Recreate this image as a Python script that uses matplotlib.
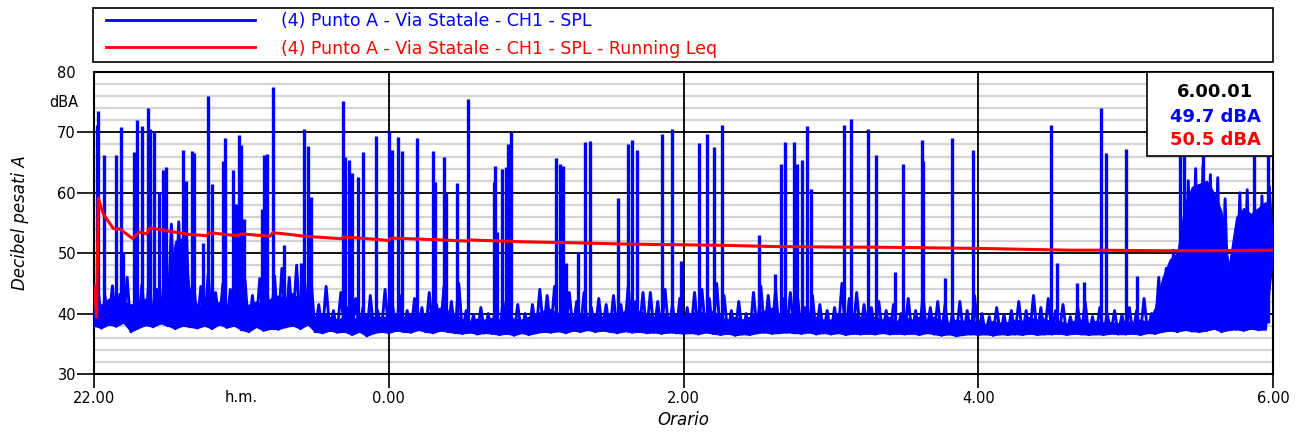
import numpy as np
import matplotlib
matplotlib.use("Agg")
import matplotlib.pyplot as plt
from matplotlib.patches import Rectangle

# ---------------- data ----------------
# background SPL (dBA), sampled every 0.025 h from 22.00 (alternating troughs / crests)
sample_step_h = 0.025
spl_base = [
    38.0, 45.5, 37.6, 42.8, 38.2, 44.6, 37.9, 43.2, 38.5, 46.0,
    37.0, 41.5, 37.6, 44.8, 38.1, 46.2, 37.8, 44.0, 38.4, 45.5,
    38.0, 54.8, 37.5, 55.2, 38.0, 54.6, 37.8, 46.0, 37.6, 44.5,
    38.0, 46.5, 37.5, 43.5, 38.2, 45.0, 37.7, 44.0, 38.0, 46.5,
    37.3, 45.5, 37.0, 43.0, 37.8, 45.8, 37.2, 44.0, 37.5, 46.2,
    37.4, 47.5, 37.8, 46.0, 38.0, 48.0, 37.5, 47.0, 38.2, 45.0,
    37.0, 41.5, 36.8, 44.5, 37.2, 40.5, 36.9, 43.5, 37.0, 41.0,
    36.5, 42.5, 37.0, 41.0, 36.3, 43.0, 36.8, 40.5, 37.0, 44.0,
    36.8, 41.5, 37.2, 43.0, 37.0, 40.5, 36.9, 42.5, 37.3, 41.0,
    37.0, 43.5, 36.8, 41.5, 37.2, 44.5, 37.0, 42.0, 36.8, 45.0,
    36.7, 40.5, 36.9, 39.8, 36.6, 41.0, 36.8, 40.0, 36.7, 41.5,
    36.5, 42.0, 36.7, 40.5, 36.4, 41.5, 36.8, 40.0, 36.5, 41.5,
    36.8, 44.0, 37.0, 43.0, 36.9, 44.5, 37.1, 42.5, 36.8, 43.5,
    37.2, 42.0, 37.0, 43.5, 37.3, 41.0, 37.0, 42.5, 37.2, 41.5,
    37.0, 43.0, 36.8, 41.5, 37.1, 44.5, 36.9, 42.0, 37.0, 43.5,
    36.8, 43.5, 36.9, 42.0, 36.7, 44.0, 36.9, 41.5, 36.8, 42.5,
    36.7, 41.0, 36.8, 43.5, 36.6, 44.0, 36.9, 42.5, 36.7, 45.0,
    36.5, 43.0, 36.7, 40.5, 36.4, 42.0, 36.6, 40.0, 36.5, 43.5,
    36.8, 44.5, 36.9, 43.0, 36.7, 44.0, 36.8, 42.5, 36.9, 43.5,
    36.8, 42.5, 36.7, 41.0, 36.9, 43.0, 36.6, 41.5, 36.8, 40.5,
    36.6, 41.0, 36.8, 45.0, 36.5, 42.5, 36.7, 43.5, 36.6, 41.5,
    36.7, 41.0, 36.6, 42.0, 36.8, 40.5, 36.6, 41.5, 36.7, 40.0,
    36.6, 42.5, 36.7, 40.5, 36.5, 43.0, 36.8, 41.0, 36.6, 42.0,
    36.4, 41.5, 36.6, 40.0, 36.3, 42.0, 36.5, 40.5, 36.6, 43.0,
    36.5, 40.0, 36.6, 39.5, 36.4, 41.0, 36.6, 39.8, 36.5, 40.5,
    36.6, 42.0, 36.5, 40.5, 36.7, 43.0, 36.5, 41.0, 36.6, 42.5,
    36.6, 40.5, 36.7, 41.5, 36.5, 39.5, 36.7, 41.0, 36.6, 42.0,
    36.5, 39.5, 36.6, 41.0, 36.5, 40.0, 36.7, 40.5, 36.6, 39.8,
    36.6, 41.0, 36.7, 40.5, 36.5, 42.5, 36.8, 40.0, 36.7, 46.0,
    37.0, 47.5, 37.2, 50.5, 37.0, 52.0, 37.3, 62.0, 37.1, 64.0,
    37.0, 64.5, 37.2, 63.0, 37.5, 62.5, 37.0, 59.0, 37.3, 50.0,
    37.4, 60.0, 37.2, 60.5, 37.5, 58.0, 37.3, 59.5, 37.4, 61.0,
    49.7,
]

# level up to which the SPL trace is a solid blue band, every 0.05 h
band_top = [
    42.0, 41.5, 42.5, 41.0, 42.0,
    41.5, 42.0, 42.5, 41.5, 42.0,
    44.0, 52.0, 52.5, 44.0, 41.5,
    41.5, 41.0, 42.0, 41.5, 41.0,
    41.0, 41.5, 42.0, 41.5, 42.5,
    43.0, 42.5, 43.5, 42.0, 41.0,
    39.5, 40.0, 39.5, 39.0, 39.5,
    39.0, 39.5, 40.0, 39.5, 39.5,
    39.5, 40.0, 39.5, 40.0, 39.5,
    40.0, 40.5, 41.0, 40.5, 40.0,
    39.0, 38.8, 39.2, 39.0, 39.3,
    39.0, 39.5, 39.2, 39.0, 39.5,
    40.0, 40.5, 40.8, 40.0, 40.5,
    39.5, 40.0, 39.5, 40.0, 39.5,
    40.0, 39.5, 40.5, 40.0, 40.5,
    40.0, 39.5, 40.0, 39.5, 40.0,
    39.5, 40.0, 40.5, 40.0, 40.5,
    39.5, 39.0, 39.5, 39.0, 39.5,
    40.0, 40.5, 41.0, 40.0, 40.5,
    39.5, 39.0, 39.5, 39.5, 39.0,
    39.0, 40.0, 39.5, 40.0, 39.5,
    39.0, 39.5, 39.0, 39.5, 38.8,
    39.5, 39.0, 39.5, 39.0, 39.5,
    38.8, 38.5, 39.0, 38.8, 39.0,
    38.5, 38.3, 38.8, 38.5, 38.6,
    39.0, 38.8, 39.5, 39.0, 39.2,
    38.6, 38.8, 38.4, 38.8, 39.0,
    38.4, 38.8, 38.5, 38.6, 38.4,
    38.8, 38.6, 39.0, 38.6, 41.0,
    46.0, 49.0, 50.0, 58.0, 61.0,
    61.5, 62.0, 60.0, 57.0, 48.0,
    56.0, 57.5, 56.5, 57.5, 58.5,
    49.7,
]

# short noise events: time (hours after 22.00) and peak level (dBA)
spike_t = [0.018, 0.029, 0.068, 0.149, 0.181, 0.197, 0.271, 0.294, 0.324, 0.368,
           0.380, 0.409, 0.443, 0.470, 0.488, 0.602, 0.624, 0.663, 0.678, 0.742,
           0.775, 0.799, 0.873, 0.891, 0.945, 0.961, 0.982, 0.995, 1.018, 1.138,
           1.153, 1.176, 1.212, 1.291, 1.404, 1.425, 1.454, 1.472, 1.691, 1.703,
           1.732, 1.748, 1.789, 1.823, 1.913, 2.003, 2.020, 2.064, 2.088, 2.189,
           2.302, 2.313, 2.374, 2.388, 2.465, 2.539, 2.714, 2.720, 2.736, 2.766,
           2.793, 2.811, 2.827, 3.134, 3.161, 3.180, 3.202, 3.286, 3.331, 3.365,
           3.553, 3.625, 3.648, 3.686, 3.851, 3.923, 3.982, 4.104, 4.157, 4.208,
           4.263, 4.511, 4.620, 4.661, 4.688, 4.749, 4.767, 4.801, 4.835, 4.864,
           5.088, 5.136, 5.253, 5.303, 5.434, 5.491, 5.615, 5.626, 5.773, 5.819,
           5.965, 6.493, 6.535, 6.667, 6.716, 6.830, 6.864, 7.000, 7.074, 7.368,
           7.395, 7.524, 7.870, 7.965]
spike_db = [71.2, 73.5, 66.3, 66.3, 70.9, 50.2, 66.8, 72.1, 71.1, 74.0,
            70.6, 70.2, 60.2, 63.8, 64.3, 67.1, 61.9, 67.0, 66.6, 51.7,
            76.0, 61.5, 65.2, 69.1, 63.8, 58.2, 69.5, 67.9, 55.7, 57.4,
            66.3, 66.5, 77.5, 51.3, 48.3, 70.5, 67.7, 59.3, 75.2, 66.0,
            65.4, 63.2, 62.6, 66.8, 69.4, 70.3, 67.1, 69.2, 67.0, 69.1,
            66.9, 61.8, 66.0, 59.9, 61.6, 75.5, 61.8, 64.4, 53.5, 64.0,
            64.3, 68.1, 70.1, 65.8, 64.7, 64.4, 48.3, 50.2, 68.4, 68.6,
            59.1, 68.1, 68.8, 67.1, 69.7, 70.6, 48.7, 68.3, 69.7, 67.6,
            71.3, 53.0, 46.6, 64.7, 68.4, 68.4, 64.7, 65.4, 71.0, 60.6,
            71.3, 72.3, 70.5, 66.2, 46.9, 64.8, 68.7, 65.2, 45.9, 69.0,
            67.1, 71.3, 48.3, 45.0, 45.2, 74.0, 66.6, 67.3, 46.3, 68.0,
            69.0, 67.0, 70.0, 68.0]

# running Leq
leq_t = [0.000, 0.018, 0.029, 0.063, 0.131, 0.176, 0.263, 0.307, 0.358, 0.380,
         0.448, 0.516, 0.651, 0.765, 0.782, 0.968, 1.002, 1.194, 1.212, 1.330,
         1.431, 1.680, 1.691, 1.906, 1.997, 2.015, 2.359, 2.537, 2.544, 2.890,
         3.297, 3.636, 3.976, 4.281, 4.620, 5.129, 5.298, 5.988, 6.621, 6.825,
         7.266, 7.503, 8.000]
leq_db = [44.5, 39.4, 59.1, 56.5, 54.1, 54.0, 52.4, 53.5, 53.2, 54.2,
          53.9, 53.6, 53.1, 52.9, 53.4, 52.9, 53.2, 52.8, 53.4, 53.1,
          52.8, 52.4, 52.7, 52.3, 52.1, 52.5, 52.2, 52.0, 52.2, 51.9,
          51.7, 51.5, 51.4, 51.3, 51.1, 51.0, 51.0, 50.8, 50.5, 50.5,
          50.4, 50.4, 50.5]

x_tick_pos = [0, 2, 4, 6, 8]
x_tick_labels = ["22.00", "0.00", "2.00", "4.00", "6.00"]
y_ticks = [30, 40, 50, 60, 70, 80]

series_labels = ["(4) Punto A - Via Statale - CH1 - SPL",
                 "(4) Punto A - Via Statale - CH1 - SPL - Running Leq"]
readout = ["6.00.01", "49.7 dBA", "50.5 dBA"]

# ---------------- plot ----------------
W, H = 1297, 434
fig = plt.figure(figsize=(W / 100, H / 100), dpi=100)
ax = fig.add_axes([94 / W, 1 - 374 / H, (1273 - 94) / W, (374 - 72) / H])

blue = "#0000ff"
red = "#ff0000"

spl_arr = np.asarray(spl_base)
t_base = np.arange(len(spl_arr)) * sample_step_h
t_band = t_base[0::2]
ax.fill_between(t_band, spl_arr[0::2], band_top, color=blue, lw=0.8,
                edgecolor=blue, zorder=3)
ln_spl, = ax.plot(t_base, spl_arr, color=blue, lw=2.1, zorder=3)
ax.vlines(spike_t, 38.5, spike_db, color=blue, lw=2.4, zorder=3)
ln_leq, = ax.plot(leq_t, leq_db, color=red, lw=2.2, zorder=4)

ax.set_xlim(0, 8)
ax.set_ylim(30, 80)

# grid
ax.set_axisbelow(True)
ax.set_yticks(y_ticks)
ax.set_yticks(np.arange(30, 81, 2), minor=True)
ax.grid(axis="y", which="minor", color="#d4d4d4", lw=1.6)
ax.grid(axis="y", which="major", color="black", lw=1.3)
ax.set_xticks(x_tick_pos)
ax.set_xticklabels(x_tick_labels)
ax.set_xticks([1], minor=True)
ax.set_xticklabels(["h.m."], minor=True)
for xv in x_tick_pos[1:-1]:
    ax.axvline(xv, color="black", lw=1.3, zorder=1)

for s in ax.spines.values():
    s.set_color("black")
    s.set_linewidth(1.5)

ax.tick_params(axis="y", which="major", length=12, width=1.2, pad=1,
               labelsize=10.5, colors="black")
ax.tick_params(axis="y", which="minor", length=0)
ax.tick_params(axis="x", which="major", length=10, width=1.2, pad=2,
               labelsize=10.5)
ax.tick_params(axis="x", which="minor", length=0, pad=11.5, labelsize=10.5)
ax.yaxis.get_major_ticks()[-1].tick1line.set_visible(False)

ax.text(-0.013, 75, "dBA", transform=ax.get_yaxis_transform(),
        ha="right", va="center", fontsize=10.5)

ax.set_ylabel("Decibel pesati A", fontsize=12, style="italic", labelpad=20)
ax.set_xlabel("Orario", fontsize=12, style="italic", labelpad=4)

# legend (frame drawn separately so the entries can sit inset)
frame = Rectangle((93 / W, 1 - 62 / H), (1273 - 93) / W, 54 / H,
                  transform=fig.transFigure, facecolor="none",
                  edgecolor="black", lw=1.2, zorder=5)
fig.add_artist(frame)
leg = ax.legend([ln_spl, ln_leq], series_labels, loc="upper left",
                bbox_to_anchor=(106 / W, 1 - 12 / H),
                bbox_transform=fig.transFigure,
                borderaxespad=0, borderpad=0, handlelength=8.6,
                handletextpad=1.5, labelspacing=0.55, fontsize=12.5,
                frameon=False, labelcolor=[blue, red])
for h in leg.legend_handles:
    h.set_linewidth(2.0)

# readout box
ax.add_patch(Rectangle((0.893, 0.722), 0.107, 0.278, transform=ax.transAxes,
                       facecolor="white", edgecolor="black", lw=1.2,
                       zorder=10, clip_on=False))
for txt, col, yy in zip(readout, ["black", blue, red], [0.917, 0.834, 0.758]):
    ax.text(0.951, yy, txt, transform=ax.transAxes, ha="center",
            va="baseline", fontsize=13, fontweight="bold", color=col,
            zorder=11)

fig.savefig("out.png", dpi=100)
